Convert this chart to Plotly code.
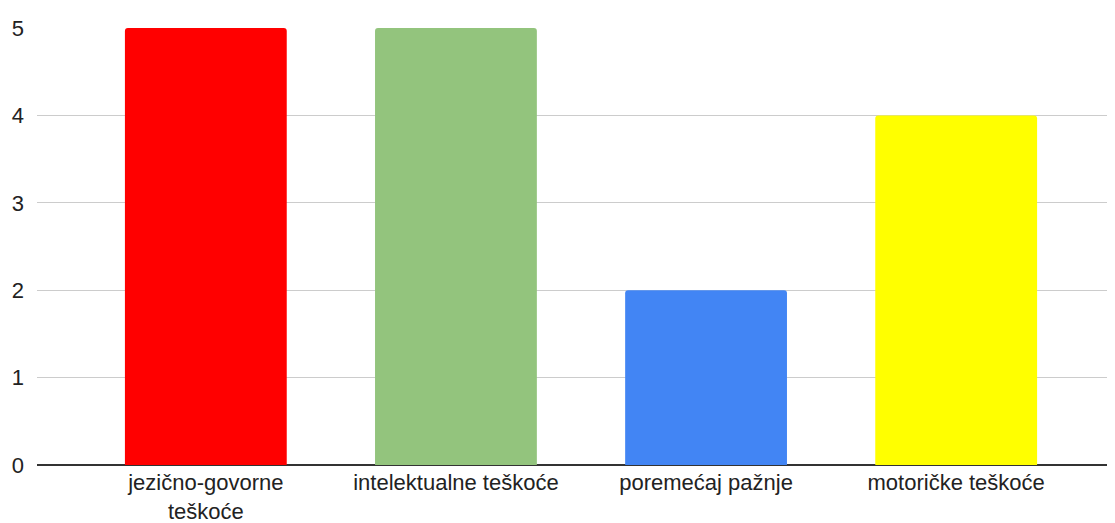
import plotly.graph_objects as go

categories = ["jezično-govorne<br>teškoće", "intelektualne teškoće", "poremećaj pažnje", "motoričke teškoće"]
values = [5, 5, 2, 4]
colors = ["#FF0000", "#93C47D", "#4285F4", "#FFFF00"]
y_ticks = [0, 1, 2, 3, 4, 5]

x_pos = list(range(len(categories)))

fig = go.Figure(go.Bar(
    x=x_pos, y=values, marker=dict(color=colors, line=dict(width=0), cornerradius=3),
    width=0.647,
))

# page body has an 8px default margin, so the figure is sized 8px smaller
fig.update_layout(
    width=1107, height=515,
    margin=dict(l=29, r=0, t=20, b=58, autoexpand=False),
    paper_bgcolor="white", plot_bgcolor="white",
    font=dict(family="Liberation Sans, Arial, sans-serif", size=22, color="#222222"),
    showlegend=False,
    xaxis=dict(
        tickmode="array", tickvals=x_pos, ticktext=categories,
        range=[-0.675, 3.635], showgrid=False, zeroline=False,
        showline=False, ticks="", ticklabelstandoff=2, automargin=False,
    ),
    yaxis=dict(
        range=[0, 5], tickvals=y_ticks, showgrid=True, gridcolor="#CCCCCC", gridwidth=1,
        zeroline=True, zerolinecolor="#333333", zerolinewidth=2,
        showline=False, ticks="", ticklabelstandoff=12, automargin=False,
    ),
)

fig.write_html("out.html")
